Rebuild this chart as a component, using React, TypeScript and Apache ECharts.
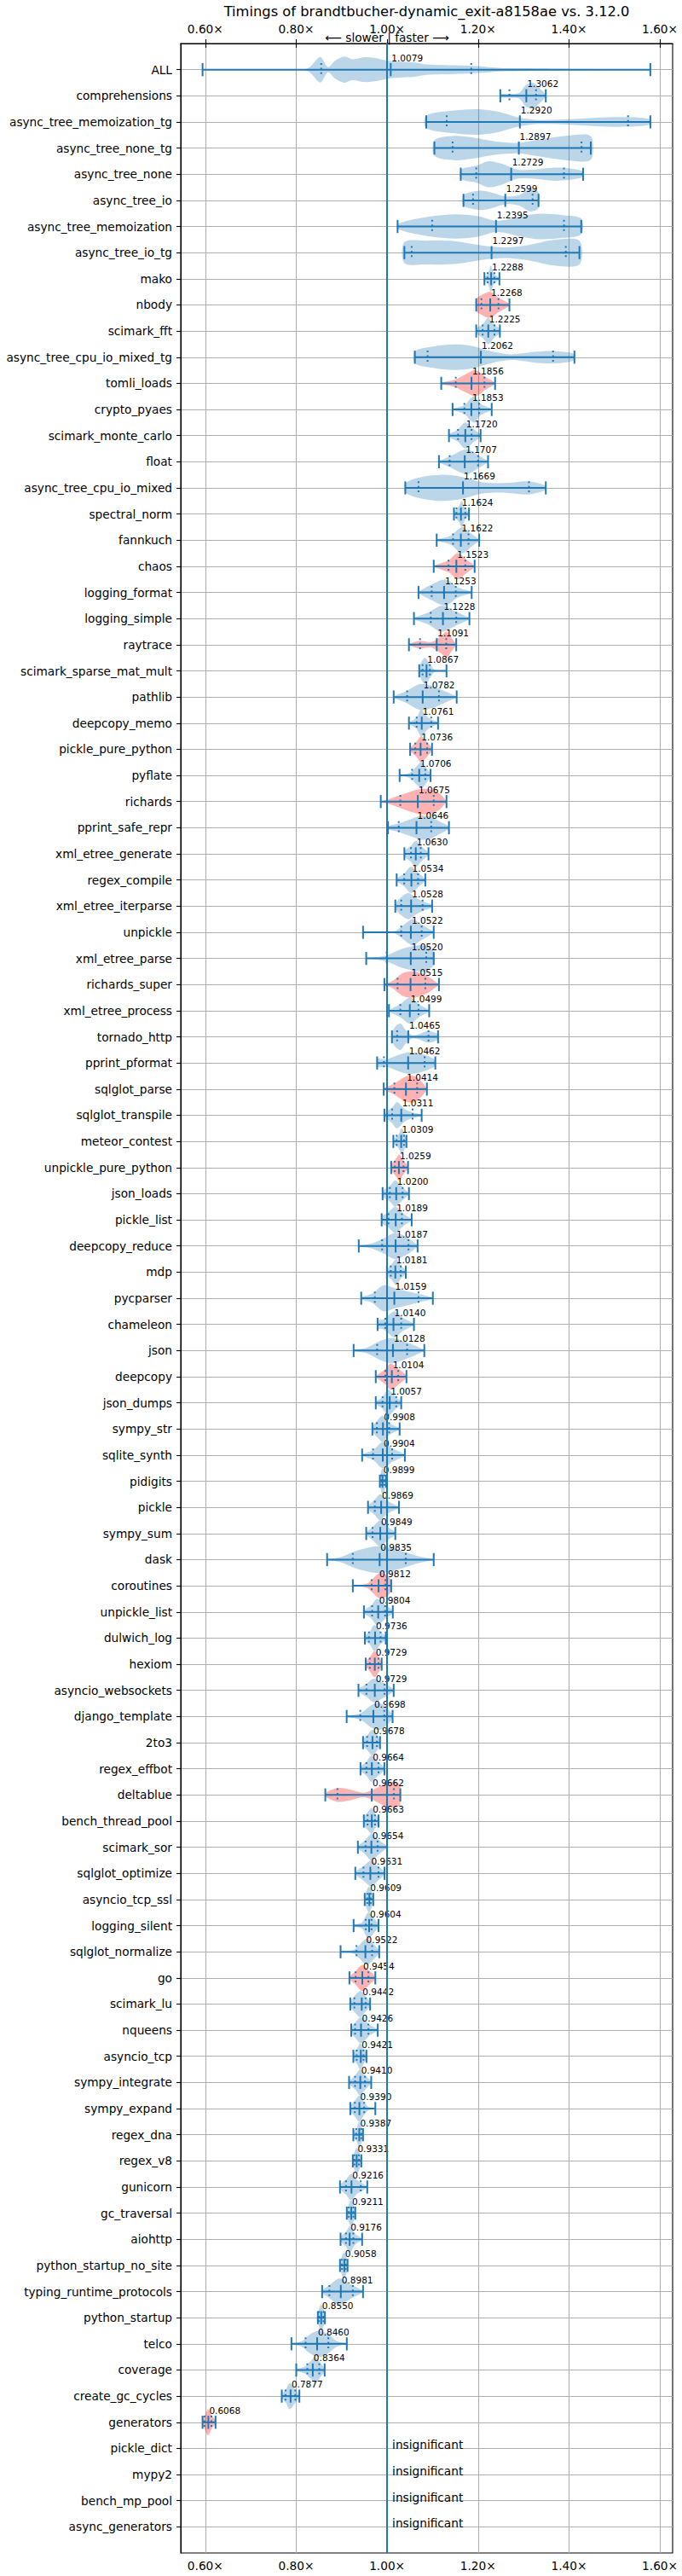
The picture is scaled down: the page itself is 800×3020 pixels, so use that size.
// Violin timing chart using ECharts

import { useEffect, useRef } from 'react';
import * as echarts from 'echarts';

const benchmarks = [
    'ALL', 'comprehensions', 'async_tree_memoization_tg', 'async_tree_none_tg', 'async_tree_none',
    'async_tree_io', 'async_tree_memoization', 'async_tree_io_tg', 'mako', 'nbody',
    'scimark_fft', 'async_tree_cpu_io_mixed_tg', 'tomli_loads', 'crypto_pyaes', 'scimark_monte_carlo',
    'float', 'async_tree_cpu_io_mixed', 'spectral_norm', 'fannkuch', 'chaos',
    'logging_format', 'logging_simple', 'raytrace', 'scimark_sparse_mat_mult', 'pathlib',
    'deepcopy_memo', 'pickle_pure_python', 'pyflate', 'richards', 'pprint_safe_repr',
    'xml_etree_generate', 'regex_compile', 'xml_etree_iterparse', 'unpickle', 'xml_etree_parse',
    'richards_super', 'xml_etree_process', 'tornado_http', 'pprint_pformat', 'sqlglot_parse',
    'sqlglot_transpile', 'meteor_contest', 'unpickle_pure_python', 'json_loads', 'pickle_list',
    'deepcopy_reduce', 'mdp', 'pycparser', 'chameleon', 'json',
    'deepcopy', 'json_dumps', 'sympy_str', 'sqlite_synth', 'pidigits',
    'pickle', 'sympy_sum', 'dask', 'coroutines', 'unpickle_list',
    'dulwich_log', 'hexiom', 'asyncio_websockets', 'django_template', '2to3',
    'regex_effbot', 'deltablue', 'bench_thread_pool', 'scimark_sor', 'sqlglot_optimize',
    'asyncio_tcp_ssl', 'logging_silent', 'sqlglot_normalize', 'go', 'scimark_lu',
    'nqueens', 'asyncio_tcp', 'sympy_integrate', 'sympy_expand', 'regex_dna',
    'regex_v8', 'gunicorn', 'gc_traversal', 'aiohttp', 'python_startup_no_site',
    'typing_runtime_protocols', 'python_startup', 'telco', 'coverage', 'create_gc_cycles',
    'generators', 'pickle_dict', 'mypy2', 'bench_mp_pool', 'async_generators',
];

// null = insignificant
const means: (number | null)[] = [
    1.0079, 1.3062, 1.2920, 1.2897, 1.2729, 1.2599, 1.2395, 1.2297, 1.2288, 1.2268,
    1.2225, 1.2062, 1.1856, 1.1853, 1.1720, 1.1707, 1.1669, 1.1624, 1.1622, 1.1523,
    1.1253, 1.1228, 1.1091, 1.0867, 1.0782, 1.0761, 1.0736, 1.0706, 1.0675, 1.0646,
    1.0630, 1.0534, 1.0528, 1.0522, 1.0520, 1.0515, 1.0499, 1.0465, 1.0462, 1.0414,
    1.0311, 1.0309, 1.0259, 1.0200, 1.0189, 1.0187, 1.0181, 1.0159, 1.0140, 1.0128,
    1.0104, 1.0057, 0.9908, 0.9904, 0.9899, 0.9869, 0.9849, 0.9835, 0.9812, 0.9804,
    0.9736, 0.9729, 0.9729, 0.9698, 0.9678, 0.9664, 0.9662, 0.9663, 0.9654, 0.9631,
    0.9609, 0.9604, 0.9522, 0.9454, 0.9442, 0.9426, 0.9421, 0.9410, 0.9390, 0.9387,
    0.9331, 0.9216, 0.9211, 0.9176, 0.9058, 0.8981, 0.8550, 0.8460, 0.8364, 0.7877,
    0.6068, null, null, null, null,
];

const mins = [
    0.594, 1.249, 1.086, 1.104, 1.162, 1.168, 1.023, 1.038, 1.214, 1.196,
    1.196, 1.061, 1.119, 1.144, 1.136, 1.114, 1.04, 1.147, 1.109, 1.1025,
    1.069, 1.059, 1.048, 1.0706, 1.0144, 1.048, 1.0506, 1.0275, 0.986, 1.002,
    1.038, 1.021, 1.018, 0.947, 0.954, 0.994, 1.004, 1.0106, 0.978, 0.9925,
    0.994, 1.0137, 1.009, 0.99, 0.988, 0.9376, 0.9995, 0.943, 0.979, 0.9263,
    0.975, 0.975, 0.9676, 0.945, 0.984, 0.958, 0.954, 0.868, 0.9245, 0.949,
    0.951, 0.953, 0.937, 0.911, 0.947, 0.9414, 0.864, 0.9488, 0.9357, 0.93,
    0.9507, 0.9263, 0.8976, 0.917, 0.919, 0.921, 0.9257, 0.9163, 0.919, 0.9257,
    0.9245, 0.8963, 0.9113, 0.8976, 0.8963, 0.857, 0.8476, 0.7895, 0.8001, 0.7683,
    0.594,
];

const maxs = [
    1.579, 1.349, 1.579, 1.448, 1.431, 1.333, 1.427, 1.423, 1.247, 1.269,
    1.248, 1.412, 1.2375, 1.23, 1.2056, 1.222, 1.349, 1.18, 1.2025, 1.1925,
    1.186, 1.181, 1.152, 1.1306, 1.153, 1.112, 1.0988, 1.0956, 1.1306, 1.136,
    1.091, 1.084, 1.099, 1.1025, 1.1025, 1.114, 1.0925, 1.112, 1.106, 1.0875,
    1.076, 1.0425, 1.046, 1.048, 1.054, 1.067, 1.041, 1.1006, 1.059, 1.0818,
    1.0425, 1.031, 1.0275, 1.039, 0.998, 1.026, 1.018, 1.1025, 1.009, 1.0125,
    0.997, 0.988, 1.0144, 1.012, 0.9844, 0.994, 1.029, 0.981, 1.0, 0.9944,
    0.9695, 0.981, 0.9826, 0.974, 0.9626, 0.9794, 0.9545, 0.965, 0.974, 0.947,
    0.9433, 0.9563, 0.93, 0.945, 0.913, 0.947, 0.8632, 0.9113, 0.8626, 0.807,
    0.6226,
];

const lowQuantiles = [
    0.855, 1.269, 1.131, 1.144, 1.196, 1.189, 1.099, 1.054, 1.221, 1.2075,
    1.21, 1.089, 1.151, 1.17, 1.156, 1.1375, 1.069, 1.1525, 1.145, 1.135,
    1.098, 1.096, 1.0725, 1.078, 1.044, 1.065, 1.062, 1.055, 1.029, 1.0256,
    1.0525, 1.0375, 1.031, 1.031, 0.999, 1.023, 1.029, 1.022, 0.993, 1.016,
    1.011, 1.021, 1.017, 1.006, 1.003, 0.989, 1.008, 0.973, 0.996, 0.978,
    0.996, 0.99, 0.9775, 0.969, 0.987, 0.973, 0.968, 0.9245, 0.966, 0.967,
    0.96, 0.962, 0.9545, 0.941, 0.956, 0.9545, 0.8907, 0.957, 0.9526, 0.948,
    0.9563, 0.953, 0.9326, 0.9307, 0.928, 0.9295, 0.933, 0.9295, 0.929, 0.932,
    0.928, 0.9095, 0.9157, 0.9095, 0.9007, 0.873, 0.8501, 0.8207, 0.8245, 0.7764,
    0.598,
];

const highQuantiles = [
    1.185, 1.3275, 1.53, 1.4275, 1.389, 1.32, 1.389, 1.393, 1.236, 1.245,
    1.236, 1.365, 1.214, 1.2025, 1.1856, 1.2, 1.312, 1.172, 1.179, 1.172,
    1.151, 1.152, 1.13, 1.094, 1.114, 1.097, 1.088, 1.084, 1.1025, 1.097,
    1.074, 1.068, 1.078, 1.076, 1.086, 1.084, 1.069, 1.091, 1.0825, 1.066,
    1.056, 1.037, 1.036, 1.034, 1.0325, 1.047, 1.03, 1.069, 1.031, 1.044,
    1.0244, 1.02, 1.0044, 1.011, 0.994, 1.0, 1.0, 1.041, 0.996, 0.9956,
    0.9856, 0.981, 0.9944, 0.9938, 0.9775, 0.981, 1.015, 0.9733, 0.979, 0.981,
    0.9638, 0.9657, 0.967, 0.9588, 0.9526, 0.9588, 0.948, 0.9513, 0.9495, 0.943,
    0.938, 0.942, 0.9257, 0.9257, 0.9088, 0.9245, 0.8601, 0.8707, 0.8507, 0.7982,
    0.6135,
];

// violin outlines: pairs of [speedup, relative half width]
const shapes: number[][] = [
    [0.594, 0, 0.815, 0, 0.83, 0.2, 0.853, 0.98, 0.87, 0.2, 0.886, 0.7, 0.906, 1.0, 0.923, 0.8, 0.954, 0.95, 0.986, 0.8, 1.004, 0.67, 1.036, 0.6, 1.061, 0.55, 1.086, 0.4, 1.148, 0.33, 1.186, 0.28, 1.211, 0.24, 1.248, 0.13, 1.304, 0.1, 1.398, 0.06, 1.46, 0.05, 1.5, 0.01, 1.579, 0],
    [1.249, 0.12, 1.28, 0.15, 1.292, 0.24, 1.304, 0.78, 1.32, 1.0, 1.336, 0.55, 1.349, 0.08],
    [1.086, 0.48, 1.148, 0.87, 1.198, 0.98, 1.242, 0.8, 1.292, 0.33, 1.336, 0.15, 1.398, 0.2, 1.46, 0.33, 1.523, 0.37, 1.579, 0.2],
    [1.104, 0.6, 1.147, 0.93, 1.18, 0.85, 1.24, 0.5, 1.29, 0.4, 1.335, 0.65, 1.4, 0.95, 1.448, 0.9],
    [1.162, 0.35, 1.198, 0.67, 1.223, 1.0, 1.254, 0.78, 1.286, 0.35, 1.323, 0.35, 1.367, 0.5, 1.398, 0.45, 1.431, 0.2],
    [1.168, 0.4, 1.205, 0.74, 1.23, 0.6, 1.26, 0.3, 1.29, 0.4, 1.315, 0.85, 1.333, 0.6],
    [1.023, 0.2, 1.086, 0.72, 1.148, 0.93, 1.198, 0.8, 1.242, 0.43, 1.292, 0.76, 1.336, 0.98, 1.386, 0.87, 1.427, 0.6],
    [1.038, 0.8, 1.086, 0.91, 1.148, 0.87, 1.211, 0.54, 1.261, 0.41, 1.311, 0.59, 1.367, 0.98, 1.423, 0.91],
    [1.214, 0.1, 1.222, 0.4, 1.228, 1.0, 1.235, 0.4, 1.247, 0.05],
    [1.196, 0.45, 1.21, 0.8, 1.227, 1.0, 1.245, 0.55, 1.269, 0.08],
    [1.196, 0.2, 1.21, 0.5, 1.222, 1.0, 1.236, 0.5, 1.248, 0.15],
    [1.061, 0.45, 1.098, 0.8, 1.148, 0.98, 1.186, 0.87, 1.229, 0.45, 1.273, 0.22, 1.323, 0.4, 1.36, 0.48, 1.398, 0.37, 1.412, 0.2],
    [1.119, 0.05, 1.148, 0.27, 1.173, 0.7, 1.195, 1.0, 1.216, 0.5, 1.2375, 0.05],
    [1.144, 0.05, 1.17, 0.35, 1.19, 1.0, 1.205, 0.45, 1.23, 0.05],
    [1.136, 0.1, 1.155, 0.45, 1.172, 1.0, 1.19, 0.5, 1.2056, 0.1],
    [1.114, 0.05, 1.14, 0.45, 1.175, 0.95, 1.2, 0.5, 1.222, 0.05],
    [1.04, 0.33, 1.067, 0.76, 1.117, 1.0, 1.161, 0.87, 1.211, 0.43, 1.261, 0.37, 1.311, 0.5, 1.349, 0.15],
    [1.147, 0.15, 1.158, 0.6, 1.164, 1.0, 1.172, 0.4, 1.18, 0.1],
    [1.109, 0.05, 1.14, 0.35, 1.165, 1.0, 1.185, 0.5, 1.2025, 0.05],
    [1.1025, 0.05, 1.135, 0.45, 1.155, 1.0, 1.175, 0.5, 1.1925, 0.05],
    [1.069, 0.05, 1.098, 0.6, 1.128, 1.0, 1.155, 0.4, 1.186, 0.05],
    [1.059, 0.05, 1.09, 0.45, 1.12, 1.0, 1.15, 0.55, 1.181, 0.05],
    [1.048, 0.05, 1.072, 0.3, 1.097, 0.2, 1.12, 0.7, 1.13, 1.0, 1.143, 0.45, 1.152, 0.05],
    [1.0706, 0.3, 1.083, 1.0, 1.095, 0.5, 1.105, 0.08, 1.1306, 0.02],
    [1.0144, 0.05, 1.042, 0.45, 1.073, 1.0, 1.098, 0.85, 1.13, 0.4, 1.153, 0.03],
    [1.048, 0.05, 1.065, 0.45, 1.075, 1.0, 1.09, 0.45, 1.112, 0.05],
    [1.0506, 0.1, 1.065, 0.6, 1.075, 1.0, 1.088, 0.55, 1.0988, 0.1],
    [1.0275, 0.03, 1.05, 0.2, 1.065, 0.7, 1.075, 1.0, 1.088, 0.5, 1.0956, 0.1],
    [0.986, 0.02, 1.005, 0.2, 1.03, 0.5, 1.061, 0.87, 1.086, 0.98, 1.111, 0.72, 1.1306, 0.05],
    [1.002, 0.1, 1.023, 0.3, 1.048, 0.6, 1.073, 0.9, 1.092, 0.88, 1.117, 0.45, 1.136, 0.1],
    [1.038, 0.2, 1.052, 0.6, 1.063, 1.0, 1.076, 0.55, 1.091, 0.1],
    [1.021, 0.1, 1.038, 0.5, 1.052, 1.0, 1.07, 0.5, 1.084, 0.05],
    [1.018, 0.2, 1.035, 0.8, 1.047, 1.0, 1.065, 0.6, 1.08, 0.35, 1.099, 0.1],
    [0.947, 0, 1.01, 0.02, 1.025, 0.25, 1.045, 0.8, 1.057, 1.0, 1.075, 0.6, 1.1025, 0.05],
    [0.954, 0.03, 0.98, 0.1, 1.0, 0.25, 1.035, 0.75, 1.065, 0.98, 1.085, 0.95, 1.1025, 0.5],
    [0.994, 0.05, 1.011, 0.26, 1.036, 0.9, 1.061, 1.0, 1.086, 0.7, 1.114, 0.03],
    [1.004, 0.05, 1.029, 0.5, 1.05, 1.0, 1.07, 0.5, 1.0925, 0.05],
    [1.0106, 0.3, 1.02, 0.85, 1.03, 1.0, 1.04, 0.55, 1.055, 0.12, 1.07, 0.2, 1.09, 0.45, 1.112, 0.2],
    [0.978, 0.3, 0.998, 0.28, 1.023, 0.6, 1.048, 0.83, 1.073, 0.72, 1.092, 0.5, 1.106, 0.2],
    [0.9925, 0.05, 1.016, 0.43, 1.042, 0.98, 1.06, 1.0, 1.075, 0.6, 1.0875, 0.05],
    [0.994, 0.1, 1.011, 0.6, 1.022, 1.0, 1.04, 0.45, 1.058, 0.2, 1.076, 0.05],
    [1.0137, 0.15, 1.025, 0.5, 1.032, 1.0, 1.038, 0.6, 1.0425, 0.2],
    [1.009, 0.2, 1.02, 0.7, 1.027, 1.0, 1.036, 0.5, 1.046, 0.1],
    [0.99, 0.2, 1.006, 0.6, 1.018, 1.0, 1.034, 0.5, 1.048, 0.05],
    [0.988, 0.2, 1.003, 0.6, 1.018, 1.0, 1.035, 0.5, 1.054, 0.05],
    [0.9376, 0.02, 0.967, 0.2, 0.992, 0.58, 1.017, 1.0, 1.042, 0.69, 1.067, 0.05],
    [0.9995, 0.2, 1.01, 0.6, 1.02, 1.0, 1.03, 0.5, 1.041, 0.1],
    [0.943, 0.1, 0.967, 0.34, 0.992, 1.0, 1.017, 0.77, 1.054, 0.45, 1.1006, 0.05],
    [0.979, 0.3, 0.992, 0.38, 1.01, 0.9, 1.018, 1.0, 1.035, 0.5, 1.059, 0.05],
    [0.9263, 0.05, 0.954, 0.2, 0.986, 0.75, 1.011, 0.97, 1.042, 0.64, 1.0818, 0.05],
    [0.975, 0.05, 0.995, 0.55, 1.008, 1.0, 1.025, 0.6, 1.0425, 0.1],
    [0.975, 0.1, 0.99, 0.45, 1.002, 1.0, 1.018, 0.5, 1.031, 0.1],
    [0.9676, 0.2, 0.98, 0.7, 0.99, 1.0, 1.005, 0.45, 1.0275, 0.05],
    [0.945, 0.05, 0.97, 0.4, 0.99, 1.0, 1.01, 0.55, 1.039, 0.05],
    [0.984, 0.3, 0.99, 1.0, 0.998, 0.3],
    [0.958, 0.1, 0.973, 0.6, 0.985, 1.0, 1.0, 0.5, 1.026, 0.05],
    [0.954, 0.1, 0.968, 0.5, 0.985, 1.0, 1.0, 0.55, 1.018, 0.1],
    [0.868, 0.02, 0.898, 0.2, 0.93, 0.65, 0.967, 0.98, 0.992, 1.0, 1.023, 0.76, 1.067, 0.28, 1.1025, 0.02],
    [0.9245, 0.01, 0.955, 0.15, 0.97, 0.6, 0.985, 1.0, 1.0, 0.8, 1.009, 0.35],
    [0.949, 0.1, 0.965, 0.5, 0.978, 1.0, 0.995, 0.55, 1.0125, 0.1],
    [0.951, 0.15, 0.962, 0.5, 0.972, 1.0, 0.985, 0.5, 0.997, 0.1],
    [0.953, 0.15, 0.963, 0.6, 0.972, 1.0, 0.98, 0.7, 0.988, 0.1],
    [0.937, 0.1, 0.955, 0.5, 0.97, 0.9, 0.99, 0.6, 1.0144, 0.1],
    [0.911, 0.02, 0.942, 0.26, 0.967, 0.9, 0.986, 1.0, 1.012, 0.15],
    [0.947, 0.2, 0.957, 0.6, 0.968, 1.0, 0.978, 0.6, 0.9844, 0.2],
    [0.9414, 0.15, 0.955, 0.55, 0.965, 1.0, 0.98, 0.55, 0.994, 0.1],
    [0.864, 0.15, 0.891, 0.53, 0.92, 0.4, 0.95, 0.17, 0.975, 0.5, 1.0, 0.92, 1.02, 0.97, 1.029, 0.7],
    [0.9488, 0.3, 0.958, 0.7, 0.966, 1.0, 0.973, 0.6, 0.981, 0.2],
    [0.9357, 0.1, 0.952, 0.55, 0.965, 1.0, 0.98, 0.6, 1.0, 0.05],
    [0.93, 0.1, 0.948, 0.55, 0.965, 1.0, 0.98, 0.55, 0.9944, 0.1],
    [0.9507, 0.2, 0.96, 1.0, 0.9695, 0.2],
    [0.9263, 0.05, 0.945, 0.25, 0.958, 1.0, 0.97, 0.6, 0.981, 0.1],
    [0.8976, 0.03, 0.925, 0.12, 0.937, 0.45, 0.955, 1.0, 0.97, 0.6, 0.9826, 0.1],
    [0.917, 0.1, 0.93, 0.5, 0.945, 1.0, 0.96, 0.55, 0.974, 0.1],
    [0.919, 0.2, 0.928, 0.6, 0.941, 1.0, 0.952, 0.6, 0.9626, 0.15],
    [0.921, 0.2, 0.93, 0.6, 0.943, 1.0, 0.96, 0.45, 0.9794, 0.05],
    [0.9257, 0.2, 0.934, 0.6, 0.941, 1.0, 0.948, 0.6, 0.9545, 0.15],
    [0.9163, 0.1, 0.93, 0.55, 0.941, 1.0, 0.952, 0.55, 0.965, 0.05],
    [0.919, 0.2, 0.929, 0.6, 0.939, 1.0, 0.95, 0.45, 0.96, 0.12, 0.974, 0.03],
    [0.9257, 0.2, 0.933, 0.5, 0.939, 1.0, 0.947, 0.2],
    [0.9245, 0.2, 0.933, 1.0, 0.9433, 0.2],
    [0.8963, 0.15, 0.91, 0.6, 0.921, 1.0, 0.935, 0.5, 0.9563, 0.05],
    [0.9113, 0.2, 0.921, 1.0, 0.93, 0.2],
    [0.8976, 0.15, 0.909, 0.55, 0.918, 1.0, 0.93, 0.4, 0.945, 0.05],
    [0.8963, 0.2, 0.905, 1.0, 0.913, 0.3],
    [0.857, 0.1, 0.873, 0.5, 0.895, 1.0, 0.92, 0.55, 0.947, 0.05],
    [0.8476, 0.3, 0.855, 1.0, 0.8632, 0.3],
    [0.7895, 0.02, 0.812, 0.2, 0.83, 0.73, 0.849, 1.0, 0.868, 0.77, 0.89, 0.2, 0.9113, 0.03],
    [0.8001, 0.05, 0.82, 0.3, 0.835, 0.8, 0.842, 1.0, 0.852, 0.6, 0.8626, 0.1],
    [0.7683, 0.1, 0.777, 0.5, 0.786, 1.0, 0.797, 0.55, 0.807, 0.1],
    [0.594, 0.2, 0.6, 0.6, 0.606, 1.0, 0.614, 0.5, 0.6226, 0.1],
];

const redBenchmarks = [
    'nbody', 'tomli_loads', 'chaos', 'raytrace', 'pickle_pure_python', 'richards',
    'richards_super', 'sqlglot_parse', 'unpickle_pure_python', 'deepcopy', 'coroutines',
    'hexiom', 'deltablue', 'go', 'generators',
];

const xTicks = [0.6, 0.8, 1.0, 1.2, 1.4, 1.6];
const yTicks = benchmarks.map((_, i) => i + 1);

const BLUE = '#1f77b4';
const FONT = 'DejaVu Sans';
const X_MIN = 0.546;
const X_MAX = 1.628;
const GRID = { left: 212, right: 11, top: 51, bottom: 27 };

export default function App() {
    const chartRef = useRef<HTMLDivElement>(null);

    useEffect(() => {
        if (!chartRef.current) return;
        document.body.style.margin = '0';

        const chart = echarts.init(chartRef.current, null, { renderer: 'svg' });

        const tickLabel = {
            fontSize: 13.7,
            fontFamily: FONT,
            color: '#000',
        };

        const renderItem = (params: any, api: any) => {
            const i = api.value(2) as number;
            const pos = i + 1;
            const xs = (v: number) => api.coord([v, pos])[0];
            const yc = api.coord([1, pos])[1];
            const rowH = api.size([0, 1])[1];
            const half = rowH / 2;
            const cap = rowH / 4;
            const mean = means[i];

            if (mean == null) {
                return {
                    type: 'text',
                    x: xs(1) + 6,
                    y: yc - 4,
                    style: {
                        text: 'insignificant',
                        fontSize: 13.7,
                        fontFamily: FONT,
                        fill: '#000',
                        textAlign: 'left',
                        textVerticalAlign: 'middle',
                    },
                };
            }

            const shape = shapes[i];
            const top: number[][] = [];
            const bottom: number[][] = [];
            for (let k = 0; k < shape.length; k += 2) {
                const px = xs(shape[k]);
                top.push([px, yc - shape[k + 1] * half]);
                bottom.unshift([px, yc + shape[k + 1] * half]);
            }
            const fill = redBenchmarks.includes(benchmarks[i])
                ? 'rgba(255, 0, 0, 0.3)'
                : 'rgba(31, 119, 180, 0.3)';

            const tick = (v: number, dotted = false) => ({
                type: 'line',
                shape: { x1: xs(v), y1: yc - cap, x2: xs(v), y2: yc + cap },
                style: {
                    stroke: BLUE,
                    lineWidth: 2,
                    lineDash: dotted ? [2, 3.4] : null,
                },
            });

            return {
                type: 'group',
                children: [
                    {
                        type: 'polygon',
                        shape: { points: top.concat(bottom), smooth: 0.3 },
                        style: { fill },
                    },
                    {
                        type: 'line',
                        shape: { x1: xs(mins[i]), y1: yc, x2: xs(maxs[i]), y2: yc },
                        style: { stroke: BLUE, lineWidth: 2 },
                    },
                    tick(mins[i]),
                    tick(maxs[i]),
                    tick(mean),
                    tick(lowQuantiles[i], true),
                    tick(highQuantiles[i], true),
                    {
                        type: 'text',
                        x: xs(mean) + 1,
                        y: yc - 14,
                        style: {
                            text: mean.toFixed(4),
                            fontSize: 10.5,
                            fontFamily: FONT,
                            fill: '#000',
                            textAlign: 'left',
                            textVerticalAlign: 'middle',
                        },
                    },
                ],
            };
        };

        const option: any = {
            animation: false,
            backgroundColor: '#fff',
            grid: {
                ...GRID,
                show: true,
                borderColor: '#000',
                borderWidth: 1.1,
            },
            xAxis: [
                {
                    type: 'value',
                    position: 'bottom',
                    min: X_MIN,
                    max: X_MAX,
                    axisLine: { show: true, lineStyle: { color: '#000', width: 1.1 } },
                    axisTick: {
                        show: true,
                        length: 5,
                        customValues: xTicks,
                        lineStyle: { color: '#000', width: 1.1 },
                    },
                    axisLabel: {
                        ...tickLabel,
                        margin: 8,
                        customValues: xTicks,
                        formatter: (v: number) => v.toFixed(2) + '×',
                    },
                    splitLine: { show: true, lineStyle: { color: '#b0b0b0', width: 1.1 } },
                },
                {
                    type: 'value',
                    position: 'top',
                    min: X_MIN,
                    max: X_MAX,
                    axisLine: { show: true, lineStyle: { color: '#000', width: 1.1 } },
                    axisTick: {
                        show: true,
                        length: 5,
                        customValues: xTicks,
                        lineStyle: { color: '#000', width: 1.1 },
                    },
                    axisLabel: {
                        ...tickLabel,
                        margin: 10,
                        customValues: xTicks,
                        formatter: (v: number) => v.toFixed(2) + '×',
                    },
                    splitLine: { show: false },
                },
            ],
            yAxis: {
                type: 'value',
                inverse: true,
                min: 0,
                max: benchmarks.length + 1,
                interval: 1,
                axisLine: { show: true, lineStyle: { color: '#000', width: 1.1 } },
                axisTick: {
                    show: true,
                    length: 5,
                    customValues: yTicks,
                    lineStyle: { color: '#000', width: 1.1 },
                },
                axisLabel: {
                    ...tickLabel,
                    margin: 10,
                    customValues: yTicks,
                    formatter: (v: number) => benchmarks[v - 1] ?? '',
                },
                splitLine: { show: true, lineStyle: { color: '#b0b0b0', width: 1.1 } },
            },
            series: [
                {
                    type: 'custom',
                    xAxisIndex: 0,
                    yAxisIndex: 0,
                    clip: false,
                    renderItem,
                    encode: { x: 0, y: 1 },
                    data: benchmarks.map((_, i) => [means[i] ?? 1, i + 1, i]),
                    markLine: {
                        silent: true,
                        symbol: ['none', 'none'],
                        label: { show: false },
                        lineStyle: { color: BLUE, width: 2, type: 'solid' },
                        data: [{ xAxis: 1 }],
                    },
                },
            ],
        };

        chart.setOption(option);

        // title and direction hint, placed relative to the axes
        const centerX = chart.convertToPixel({ xAxisIndex: 0 }, 1) as number;
        const gridMid = GRID.left + (800 - GRID.left - GRID.right) / 2;
        chart.setOption({
            graphic: [
                {
                    type: 'text',
                    x: gridMid,
                    y: 13,
                    style: {
                        text: 'Timings of brandtbucher-dynamic_exit-a8158ae vs. 3.12.0',
                        fontSize: 16.3,
                        fontFamily: FONT,
                        fill: '#000',
                        textAlign: 'center',
                        textVerticalAlign: 'middle',
                    },
                },
                {
                    type: 'text',
                    x: centerX,
                    y: 44,
                    style: {
                        text: '⟵ slower | faster ⟶',
                        fontSize: 13.7,
                        fontFamily: FONT,
                        fill: '#000',
                        textAlign: 'center',
                        textVerticalAlign: 'middle',
                    },
                },
            ],
        });

        return () => {
            chart.dispose();
        };
    }, []);

    return <div ref={chartRef} style={{ width: '800px', height: '3020px' }} />;
}
